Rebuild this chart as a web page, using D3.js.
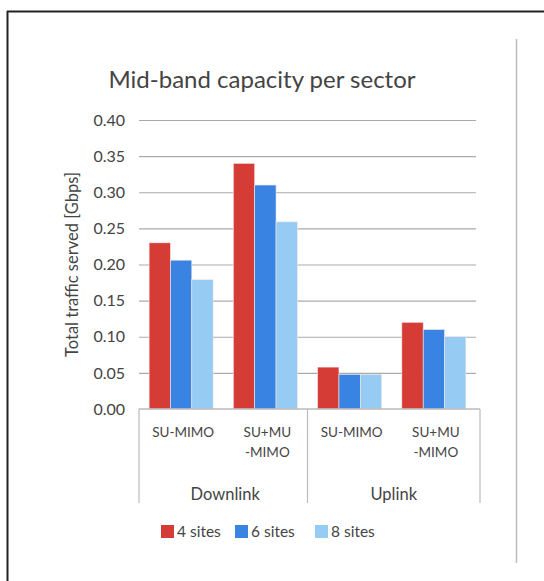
<!DOCTYPE html>
<html>
<head>
<meta charset="utf-8">
<script src="https://cdn.jsdelivr.net/npm/d3@7"></script>
<style>
  body { margin: 0; background: #fff; }
  svg { display: block; font-family: Lato, "Open Sans", sans-serif; }
</style>
</head>
<body>
<svg id="chart" width="544" height="581"></svg>
<script>
// data
const groups = ["Downlink", "Uplink"];
const categories = ["DL SU", "DL MU", "UL SU", "UL MU"];
const categoryLabels = [["SU-MIMO"], ["SU+MU", "-MIMO"], ["SU-MIMO"], ["SU+MU", "-MIMO"]];
const series = ["4 sites", "6 sites", "8 sites"];
const sites4 = [0.23, 0.34, 0.058, 0.12];
const sites6 = [0.206, 0.31, 0.048, 0.11];
const sites8 = [0.179, 0.259, 0.048, 0.10];
const yTicks = [0, 0.05, 0.10, 0.15, 0.20, 0.25, 0.30, 0.35, 0.40];
const colors = ["#d43c35", "#3984e2", "#96cbf3"];

const values = [sites4, sites6, sites8];
const data = categories.map((c, i) => ({cat: c, vals: series.map((s, j) => ({key: s, v: values[j][i], idx: j}))}));

const svg = d3.select("#chart");

// frame
svg.append("line").attr("x1", 7).attr("x2", 544).attr("y1", 11.5).attr("y2", 11.5)
  .attr("stroke", "#222").attr("stroke-width", 2);
svg.append("line").attr("x1", 7.5).attr("x2", 7.5).attr("y1", 11).attr("y2", 581)
  .attr("stroke", "#222").attr("stroke-width", 2);
svg.append("line").attr("x1", 516.5).attr("x2", 516.5).attr("y1", 39).attr("y2", 563)
  .attr("stroke", "#bbb").attr("stroke-width", 1.5);

var margin = {top: 120, left: 139},
    width = 337,
    height = 289;

const g = svg.append("g").attr("transform", "translate(" + margin.left + "," + margin.top + ")");

var x = d3.scaleBand().domain(categories).range([0, width]).paddingInner(0.24).paddingOuter(0.12);
var x1 = d3.scaleBand().domain(series).range([0, x.bandwidth()]);
var y = d3.scaleLinear().domain([0, 0.4]).range([height, 0]);

// grid
g.append("g")
  .call(d3.axisLeft(y).tickValues(yTicks).tickSize(-width).tickFormat(d3.format(".2f")).tickPadding(14))
  .call(a => a.select(".domain").remove())
  .call(a => a.selectAll("line").attr("stroke", d => d === 0 ? "none" : "#aaa").attr("stroke-width", 1.2))
  .call(a => a.selectAll("text").attr("fill", "#444").attr("font-size", 16).attr("font-family", "Lato, sans-serif"));

// bars
g.selectAll(".grp").data(data).enter().append("g")
  .attr("transform", d => "translate(" + x(d.cat) + ",0)")
  .selectAll("rect").data(d => d.vals).enter().append("rect")
  .attr("x", d => x1(d.key))
  .attr("width", x1.bandwidth())
  .attr("y", d => y(d.v))
  .attr("height", d => height - y(d.v))
  .attr("fill", d => colors[d.idx])
  .attr("stroke", "#f4e8e8").attr("stroke-width", 0.6);

// x axis baseline and separators
g.append("line").attr("x1", 0).attr("x2", width + 4).attr("y1", height).attr("y2", height)
  .attr("stroke", "#bbb").attr("stroke-width", 1.5);
const sep = [0, x.step() * 2 - x.step() * 0.12 + x.step() * 0.12, width + 4];
[0, (x(categories[1]) + x.bandwidth() + x(categories[2])) / 2, width + 4].forEach(px => {
  g.append("line").attr("x1", px).attr("x2", px).attr("y1", height).attr("y2", height + 94)
    .attr("stroke", "#bbb").attr("stroke-width", 1.2);
});

// category labels
categories.forEach((c, i) => {
  const t = g.append("text").attr("text-anchor", "middle").attr("fill", "#444")
    .attr("font-size", 13.5).attr("x", x(c) + x.bandwidth() / 2 + 2);
  categoryLabels[i].forEach((line, k) => {
    t.append("tspan").attr("x", x(c) + x.bandwidth() / 2 + 2).attr("y", height + 28 + k * 20).text(line);
  });
});

// group labels
groups.forEach((gr, i) => {
  const a = x(categories[i * 2]), b = x(categories[i * 2 + 1]) + x.bandwidth();
  g.append("text").attr("text-anchor", "middle").attr("fill", "#444").attr("font-size", 16.5)
    .attr("x", (a + b) / 2 + 2).attr("y", height + 91).text(gr);
});

// title
svg.append("text").attr("x", 262).attr("y", 88).attr("text-anchor", "middle")
  .attr("fill", "#444").attr("font-size", 24).text("Mid-band capacity per sector");

// y label
svg.append("text").attr("transform", "translate(78," + (margin.top + height / 2) + ") rotate(-90)")
  .attr("text-anchor", "middle").attr("fill", "#444").attr("font-size", 16.5)
  .text("Total traffic served [Gbps]");

// legend
const legendX = [161, 235, 315];
series.forEach((s, i) => {
  svg.append("rect").attr("x", legendX[i]).attr("y", 525).attr("width", 13).attr("height", 13)
    .attr("fill", colors[i]);
  svg.append("text").attr("x", legendX[i] + 16).attr("y", 537).attr("fill", "#444")
    .attr("font-size", 15.5).text(s);
});
</script>
</body>
</html>
